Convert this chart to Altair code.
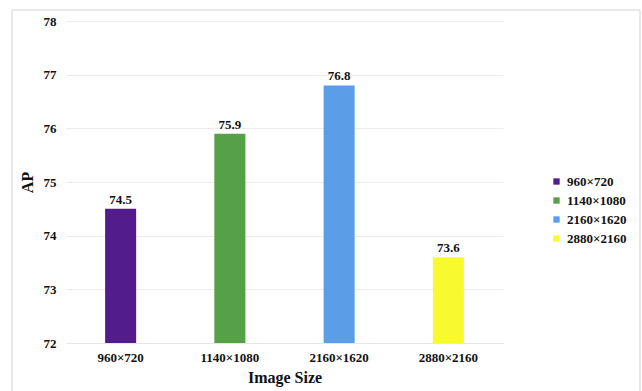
import altair as alt
import pandas as pd

sizes = ["960×720", "1140×1080", "2160×1620", "2880×2160"]
ap = [74.5, 75.9, 76.8, 73.6]
colors = ["#521c8c", "#56a047", "#5c9de8", "#f9f92f"]

df = pd.DataFrame({"size": sizes, "ap": ap})

FONT = "Liberation Serif, Times New Roman, serif"
W, H = 437, 322

x_enc = alt.X(
    "size:N",
    sort=sizes,
    title="Image Size",
    scale=alt.Scale(paddingInner=0.716, paddingOuter=0.358),
    axis=alt.Axis(
        labelAngle=0, labelFont=FONT, labelFontWeight="bold", labelFontSize=13,
        labelColor="#111", labelPadding=8, ticks=False, grid=False, domainColor="#e6e6e6",
        titleFont=FONT, titleFontWeight="bold", titleFontSize=16, titleColor="#111",
        titlePadding=5,
    ),
)
y_enc = alt.Y(
    "ap:Q",
    title="AP",
    scale=alt.Scale(domain=[72, 78], nice=False, zero=False),
    axis=alt.Axis(
        values=[72, 73, 74, 75, 76, 77, 78], format="d", labelFont=FONT,
        labelFontWeight="bold", labelFontSize=13, labelColor="#111", labelPadding=10,
        ticks=False, domain=False, gridColor="#ececec", titleFont=FONT,
        titleFontWeight="bold", titleFontSize=16, titleColor="#111", titlePadding=8,
    ),
)

bars = alt.Chart(df).mark_bar().encode(
    x=x_enc,
    y=y_enc,
    y2=alt.datum(72),
    color=alt.Color(
        "size:N",
        sort=sizes,
        scale=alt.Scale(domain=sizes, range=colors),
        legend=alt.Legend(
            title=None, orient="none", legendX=484, legendY=154, symbolType="square",
            symbolSize=40, symbolStrokeWidth=0, labelFont=FONT, labelFontWeight="bold",
            labelFontSize=13, labelColor="#111", rowPadding=5, labelOffset=4,
        ),
    ),
)

labels = alt.Chart(df).mark_text(
    font=FONT, fontWeight="bold", fontSize=13, color="#111", dy=-9
).encode(
    x=x_enc,
    y=y_enc,
    text=alt.Text("ap:Q", format=".1f"),
)

# thin frame around the whole figure, drawn as four rules
edges = alt.Chart(df).mark_rule(color="#e8e8e8", strokeWidth=1.5)
frame = (
    edges.encode(x=alt.value(-54), x2=alt.value(574), y=alt.value(-11))
    + edges.encode(x=alt.value(-54), y=alt.value(-11), y2=alt.value(380))
    + edges.encode(x=alt.value(574), y=alt.value(-11), y2=alt.value(380))
)

chart = (
    alt.layer(frame, bars, labels)
    .properties(
        width=W, height=H,
        autosize=alt.AutoSizeParams(type="none"),
        padding={"left": 66, "top": 21, "right": 139, "bottom": 48},
        view=alt.ViewBackground(stroke=None, strokeWidth=0),
    )
    .configure_view(stroke=None, strokeWidth=0)
    .configure_axisX(grid=False)
    .configure(background="white")
)

chart.save("out.html", embed_options={"renderer": "svg", "actions": False})
